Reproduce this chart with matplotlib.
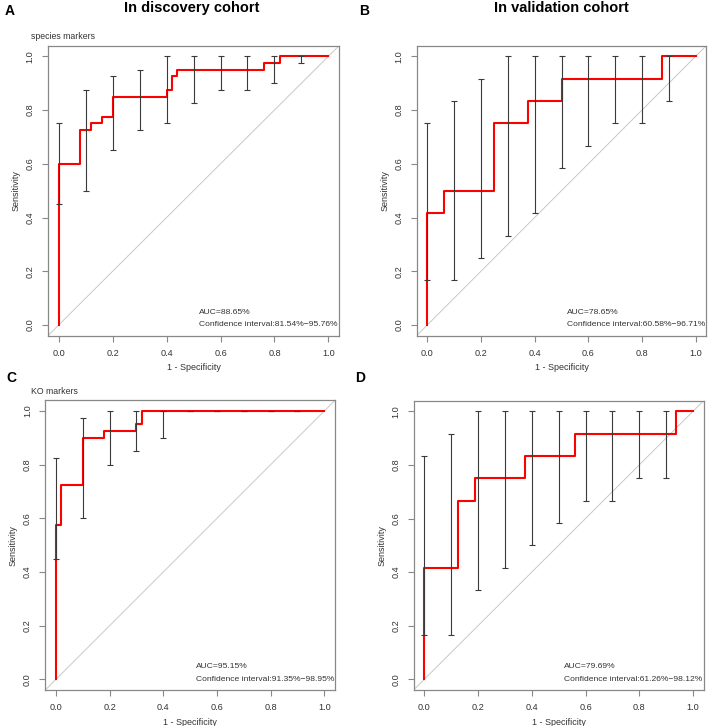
import matplotlib
matplotlib.use("Agg")
import matplotlib.pyplot as plt
import numpy as np

plt.rcParams['font.family'] = ['Liberation Sans', 'DejaVu Sans']

# ---------------- data ----------------
panel_letters = ["A", "B", "C", "D"]
column_titles = ["In discovery cohort", "In validation cohort"]
row_subtitles = ["species markers", "", "KO markers", ""]
auc_texts = ["AUC=88.65%", "AUC=78.65%", "AUC=95.15%", "AUC=79.69%"]
ci_texts = ["Confidence interval:81.54%\u221295.76%",
            "Confidence interval:60.58%\u221296.71%",
            "Confidence interval:91.35%\u221298.95%",
            "Confidence interval:61.26%\u221298.12%"]

# ROC step curves (1 - specificity, sensitivity)
roc_a_fpr = [0.0, 0.0, 0.08, 0.08, 0.12, 0.12, 0.16, 0.16, 0.20, 0.20, 0.40, 0.40, 0.42, 0.42, 0.44, 0.44, 0.76, 0.76, 0.82, 0.82, 1.0]
roc_a_tpr = [0.0, 0.60, 0.60, 0.725, 0.725, 0.75, 0.75, 0.775, 0.775, 0.85, 0.85, 0.875, 0.875, 0.925, 0.925, 0.95, 0.95, 0.975, 0.975, 1.0, 1.0]

roc_b_fpr = [0.0, 0.0, 0.0625, 0.0625, 0.25, 0.25, 0.375, 0.375, 0.50, 0.50, 0.875, 0.875, 1.0]
roc_b_tpr = [0.0, 0.417, 0.417, 0.50, 0.50, 0.75, 0.75, 0.833, 0.833, 0.917, 0.917, 1.0, 1.0]

roc_c_fpr = [0.0, 0.0, 0.02, 0.02, 0.10, 0.10, 0.18, 0.18, 0.30, 0.30, 0.32, 0.32, 1.0]
roc_c_tpr = [0.0, 0.575, 0.575, 0.725, 0.725, 0.90, 0.90, 0.925, 0.925, 0.95, 0.95, 1.0, 1.0]

roc_d_fpr = [0.0, 0.0, 0.125, 0.125, 0.1875, 0.1875, 0.375, 0.375, 0.5625, 0.5625, 0.9375, 0.9375, 1.0]
roc_d_tpr = [0.0, 0.417, 0.417, 0.667, 0.667, 0.75, 0.75, 0.833, 0.833, 0.917, 0.917, 1.0, 1.0]

# Sensitivity confidence intervals at fixed 1 - specificity values
ci_x = [0.0, 0.1, 0.2, 0.3, 0.4, 0.5, 0.6, 0.7, 0.8, 0.9]
ci_a_low = [0.45, 0.50, 0.65, 0.725, 0.75, 0.825, 0.875, 0.875, 0.90, 0.975]
ci_a_high = [0.75, 0.875, 0.925, 0.95, 1.0, 1.0, 1.0, 1.0, 1.0, 1.0]
ci_b_low = [0.167, 0.167, 0.25, 0.333, 0.417, 0.583, 0.667, 0.75, 0.75, 0.833]
ci_b_high = [0.75, 0.833, 0.917, 1.0, 1.0, 1.0, 1.0, 1.0, 1.0, 1.0]
ci_c_low = [0.45, 0.60, 0.80, 0.85, 0.90, 1.0, 1.0, 1.0, 1.0, 1.0]
ci_c_high = [0.825, 0.975, 1.0, 1.0, 1.0, 1.0, 1.0, 1.0, 1.0, 1.0]
ci_d_low = [0.167, 0.167, 0.333, 0.417, 0.50, 0.583, 0.667, 0.667, 0.75, 0.75]
ci_d_high = [0.833, 0.917, 1.0, 1.0, 1.0, 1.0, 1.0, 1.0, 1.0, 1.0]

tick_vals = [0.0, 0.2, 0.4, 0.6, 0.8, 1.0]
tick_labels = ["0.0", "0.2", "0.4", "0.6", "0.8", "1.0"]

rocs = [(roc_a_fpr, roc_a_tpr), (roc_b_fpr, roc_b_tpr),
        (roc_c_fpr, roc_c_tpr), (roc_d_fpr, roc_d_tpr)]
cis = [(ci_a_low, ci_a_high), (ci_b_low, ci_b_high),
       (ci_c_low, ci_c_high), (ci_d_low, ci_d_high)]

# ---------------- layout (pixels) ----------------
W, H = 708, 726
fig = plt.figure(figsize=(W / 100, H / 100), dpi=100)
# data 0 and 1 pixel positions: (x0, x1, y0, y1)  y from top
frames = [(58.7, 328.4, 325.0, 56.3),
          (427.3, 695.7, 325.0, 56.3),
          (56.0, 324.3, 679.3, 411.0),
          (424.3, 693.0, 679.3, 411.3)]
letter_pos = [(10, 11), (364, 11), (11, 378), (360, 378)]
pad = 0.04
box_col = '#888888'
txt_col = '#333333'

for i in range(4):
    x0, x1, y0, y1 = frames[i]
    ux = x1 - x0
    uy = y0 - y1
    left = x0 - pad * ux
    right = x1 + pad * ux
    bottom = y0 + pad * uy
    top = y1 - pad * uy
    ax = fig.add_axes([left / W, 1 - bottom / H, (right - left) / W, (bottom - top) / H])
    ax.set_xlim(-pad, 1 + pad)
    ax.set_ylim(-pad, 1 + pad)
    ax_w = right - left
    ax_h = bottom - top

    ax.axline((0, 0), (1, 1), color='#c8c8c8', lw=0.7, zorder=1)
    fpr, tpr = rocs[i]
    ax.plot(fpr, tpr, color='#ff0000', lw=1.5, zorder=2)
    lo, hi = cis[i]
    lo = np.array(lo)
    hi = np.array(hi)
    ax.errorbar(ci_x, lo, yerr=[np.zeros_like(lo), hi - lo], fmt='none',
                ecolor='#3a3a3a', elinewidth=0.8, capsize=2.2, capthick=0.8, zorder=3)

    for s in ax.spines.values():
        s.set_color(box_col)
        s.set_linewidth(0.9)
    ax.set_xticks(tick_vals)
    ax.set_xticklabels(tick_labels)
    ax.set_yticks(tick_vals)
    ax.set_yticklabels(tick_labels, rotation=90, va='center')
    ax.tick_params(direction='out', length=4, width=0.8, color=box_col,
                   labelsize=6.6, labelcolor=txt_col)
    ax.tick_params(axis='x', pad=5.5)
    ax.tick_params(axis='y', pad=5.5)

    ax.text(0.5, -32 / ax_h, "1 - Specificity", transform=ax.transAxes,
            ha='center', va='center', fontsize=6.5, color=txt_col)
    ax.text(-32 / ax_w, 0.5, "Sensitivity", transform=ax.transAxes, rotation=90,
            ha='center', va='center', fontsize=6.5, color=txt_col)

    ax.text(0.52, 0.047, auc_texts[i], ha='left', va='center', fontsize=6.1, color=txt_col)
    ax.text(0.52, 0.0, ci_texts[i], ha='left', va='center', fontsize=6.1, color=txt_col)

    if row_subtitles[i]:
        fig.text(31 / W, 1 - (top - 9) / H, row_subtitles[i], ha='left', va='center',
                 fontsize=6.3, color=txt_col)

    lx, ly = letter_pos[i]
    fig.text(lx / W, 1 - ly / H, panel_letters[i], ha='center', va='center',
             fontsize=10, fontweight='bold', color='black')

fig.text(192 / W, 1 - 8 / H, column_titles[0], ha='center', va='center',
         fontsize=10.5, fontweight='bold', color='black')
fig.text(561 / W, 1 - 8.5 / H, column_titles[1], ha='center', va='center',
         fontsize=10.5, fontweight='bold', color='black')

fig.savefig("out.png", dpi=100)
